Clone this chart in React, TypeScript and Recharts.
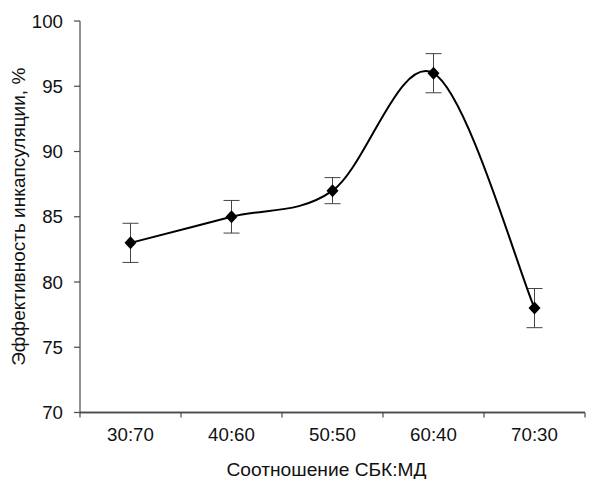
import React from 'react';
import { LineChart, Line, XAxis, YAxis, ErrorBar, Label, ReferenceLine } from 'recharts';

const ratios = ['30:70', '40:60', '50:50', '60:40', '70:30'];
const efficiency = [83, 85, 87, 96, 78];
const errors = [1.5, 1.25, 1, 1.5, 1.5];
const yTicks = [70, 75, 80, 85, 90, 95, 100];
const yMin = yTicks[0];

const data = ratios.map((r, i) => ({ pos: i + 0.5, ratio: r, value: efficiency[i], err: errors[i] }));
const boundaryTicks = ratios.map((_, i) => i).concat([ratios.length]);

const FONT = '"Liberation Sans", Arial, sans-serif';
const AXIS = '#4a4a4a';
const TEXT = '#111';
const X_TICK_SIZE = 5;
const X_TICK_MARGIN = 10;

// Excel-like smoothed line (Catmull-Rom style Bezier)
function smoothCurve(context: any) {
  let pts: [number, number][] = [];
  return {
    areaStart() {},
    areaEnd() {},
    lineStart() {
      pts = [];
    },
    point(x: number, y: number) {
      pts.push([+x, +y]);
    },
    lineEnd() {
      const n = pts.length;
      if (!n) return;
      context.moveTo(pts[0][0], pts[0][1]);
      for (let i = 0; i < n - 1; i++) {
        const p0 = pts[Math.max(i - 1, 0)];
        const p1 = pts[i];
        const p2 = pts[i + 1];
        const p3 = pts[Math.min(i + 2, n - 1)];
        context.bezierCurveTo(
          p1[0] + (p2[0] - p0[0]) / 6,
          p1[1] + (p2[1] - p0[1]) / 6,
          p2[0] - (p3[0] - p1[0]) / 6,
          p2[1] - (p3[1] - p1[1]) / 6,
          p2[0],
          p2[1]
        );
      }
    },
  };
}

const Diamond = (props: any) => {
  const { cx, cy, index } = props;
  if (cx == null || cy == null) return <g key={`d${index}`} />;
  return (
    <polygon
      key={`d${index}`}
      points={`${cx},${cy - 6.5} ${cx + 6},${cy} ${cx},${cy + 6.5} ${cx - 6},${cy}`}
      fill="#000"
    />
  );
};

// Tick marks sit on category boundaries (Excel style); each label is centred in its band.
const BandLabelTick = (props: any) => {
  const { x, y, index, visibleTicksCount, width } = props;
  const count = visibleTicksCount || boundaryTicks.length;
  const band = (typeof width === 'number' && width > 0 ? width : 505) / (count - 1);
  const top = y - X_TICK_MARGIN - X_TICK_SIZE;
  return (
    <g>
      <line x1={x} x2={x} y1={top} y2={top + X_TICK_SIZE} stroke={AXIS} strokeWidth={1.2} />
      {index < count - 1 && (
        <text
          x={x + band / 2}
          y={y}
          dy="0.71em"
          textAnchor="middle"
          fill={TEXT}
          fontSize={18.7}
          fontFamily={FONT}
        >
          {ratios[index]}
        </text>
      )}
    </g>
  );
};

export default function App() {
  return (
    <div style={{ position: 'absolute', left: 0, top: 0, width: 593, height: 479, background: '#fff' }}>
      <LineChart
        width={593}
        height={479}
        data={data}
        margin={{ top: 21, right: 8, left: 0, bottom: 0 }}
        style={{ fontFamily: FONT }}
      >
        <XAxis
          dataKey="pos"
          type="number"
          domain={[0, ratios.length]}
          ticks={boundaryTicks}
          tick={<BandLabelTick />}
          tickSize={X_TICK_SIZE}
          tickMargin={X_TICK_MARGIN}
          height={66.5}
          interval={0}
          axisLine={{ stroke: AXIS, strokeWidth: 1.3 }}
          tickLine={false}
        >
          <Label
            value="Соотношение СБК:МД"
            position="center"
            dx={-6}
            dy={23.5}
            style={{ fill: TEXT, fontSize: 19.2, fontFamily: FONT }}
          />
        </XAxis>
        <YAxis
          type="number"
          domain={[70, 100]}
          ticks={yTicks}
          width={80}
          tickSize={6}
          tickMargin={11}
          tick={{ fill: TEXT, fontSize: 18.7, fontFamily: FONT }}
          axisLine={{ stroke: AXIS, strokeWidth: 1.2 }}
          tickLine={{ stroke: AXIS, strokeWidth: 1.2 }}
          interval={0}
        >
          <Label
            value="Эффективность инкапсуляции, %"
            angle={-90}
            position="center"
            dx={-22}
            style={{ fill: TEXT, fontSize: 19, fontFamily: FONT, textAnchor: 'middle' }}
          />
        </YAxis>
        <ReferenceLine y={yMin} stroke={AXIS} strokeWidth={1.3} ifOverflow="visible" />
        <Line
          dataKey="value"
          type={smoothCurve as any}
          stroke="#000"
          strokeWidth={2}
          dot={Diamond}
          activeDot={false}
          isAnimationActive={false}
        >
          <ErrorBar dataKey="err" width={8} stroke="#444" strokeWidth={1} direction="y" />
        </Line>
      </LineChart>
    </div>
  );
}
